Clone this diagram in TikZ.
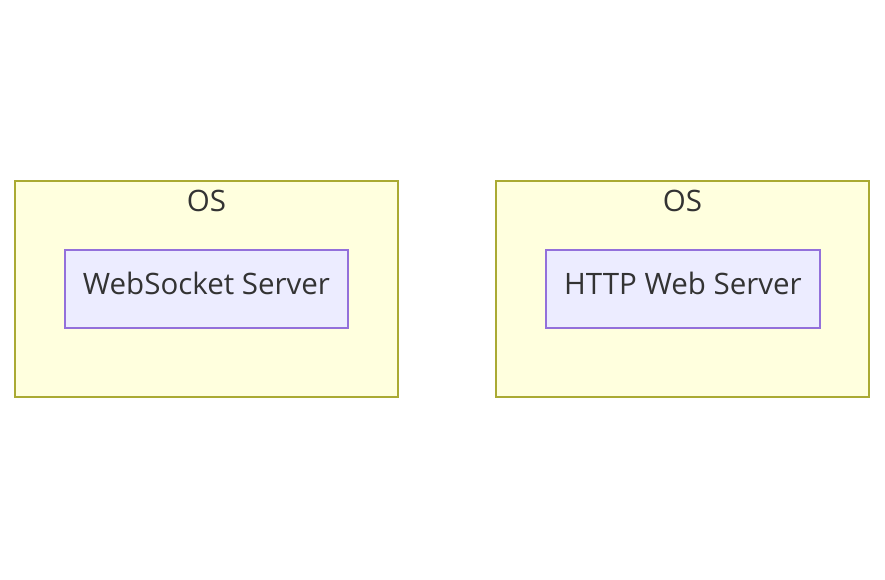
\documentclass[tikz,border=0pt]{standalone}
\usepackage{fontspec}
\setmainfont{Open Sans}
\definecolor{osfill}{HTML}{FFFFDE}
\definecolor{osdraw}{HTML}{AAAA33}
\definecolor{srvfill}{HTML}{ECECFF}
\definecolor{srvdraw}{HTML}{9370DB}
\definecolor{txt}{HTML}{333333}
\begin{document}
\begin{tikzpicture}[x=1pt,y=-1pt,
  osbox/.style={draw=osdraw,fill=osfill,line width=1.5pt},
  srvbox/.style={draw=srvdraw,fill=srvfill,line width=1.5pt,minimum width=#1,minimum height=78pt,inner sep=0pt,text=txt,font=\fontsize{29.5}{34}\selectfont,text height=21pt,text depth=10pt},
  oslabel/.style={text=txt,font=\fontsize{29.5}{34}\selectfont,inner sep=0pt}]
\useasboundingbox (0,0) rectangle (885,579);
\draw[osbox] (15,181) rectangle (398,397);
\draw[osbox] (496,181) rectangle (869,397);
\node[oslabel] (osl) at (206.5,201) {OS};
\node[oslabel] (osr) at (682.5,201) {OS};
\node[srvbox=283pt] (ws) at (206.5,289) {WebSocket Server};
\node[srvbox=274pt] (http) at (683,289) {HTTP Web Server};
\end{tikzpicture}
\end{document}
